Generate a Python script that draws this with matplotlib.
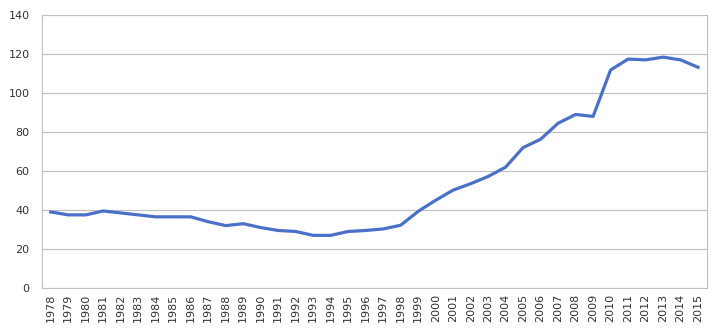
import matplotlib
matplotlib.use('Agg')
import matplotlib.pyplot as plt

# yillar ve degerler
years = list(range(1978, 2016))
values = [39, 37.5, 37.5, 39.5, 38.5, 37.5, 36.5, 36.5, 36.5, 34,
          32, 33, 31, 29.5, 29, 27, 27, 29, 29.5, 30.3,
          32.2, 39.3, 45, 50.2, 53.5, 57.2, 62, 72, 76.3, 84.5,
          89, 88, 111.8, 117.4, 117, 118.4, 117, 113.2]
year_labels = [str(y) for y in years]

fig = plt.figure(figsize=(7.21, 3.33), dpi=100)
ax = fig.add_axes([0.0583, 0.1351, 0.922, 0.8198])

x = range(len(years))
ax.plot(x, values, color='#4A70C8', linewidth=2.3, solid_joinstyle='round', zorder=3)

ax.set_xlim(-0.5, len(years) - 0.5)
ax.set_ylim(0, 140)
ax.set_yticks(range(0, 141, 20))
ax.set_xticks(list(x))
ax.set_xticklabels(year_labels, rotation=90, fontsize=8, color='#333333')
ax.tick_params(axis='y', labelsize=8, colors='#333333', length=0, pad=9)
ax.tick_params(axis='x', length=0, pad=4)

ax.grid(axis='y', color='#BFBFBF', linewidth=0.8)
ax.set_axisbelow(True)
for s in ax.spines.values():
    s.set_color('#BFBFBF')
    s.set_linewidth(0.8)

fig.savefig('out.png', dpi=100)
